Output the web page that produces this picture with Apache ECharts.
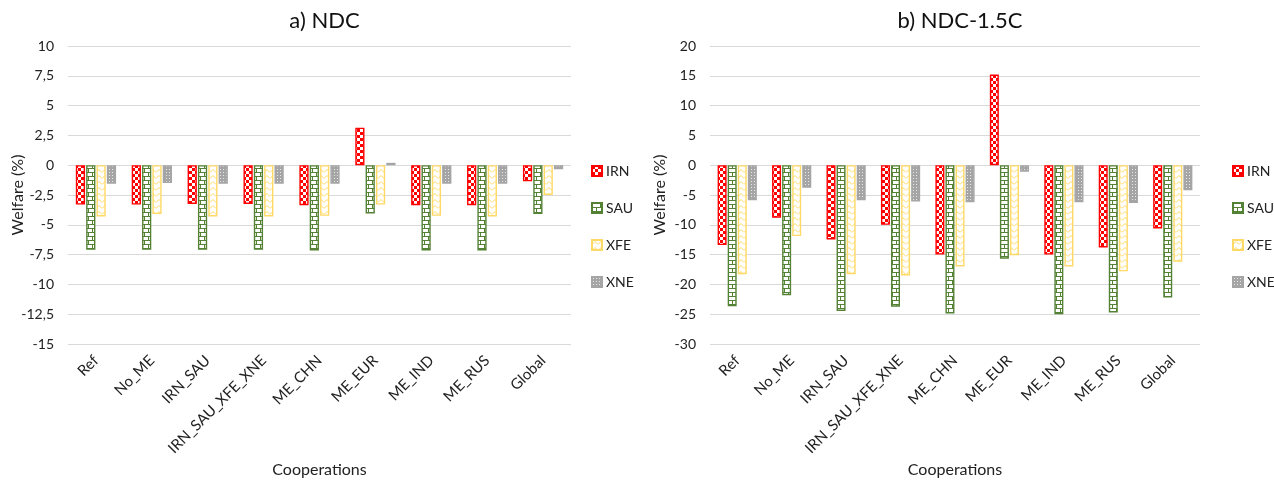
<!DOCTYPE html>
<html>
<head>
<meta charset="utf-8">
<script src="https://cdn.jsdelivr.net/npm/echarts@6/dist/echarts.min.js"></script>
<style>
html,body{margin:0;padding:0;background:#fff;}
#c{width:1274px;height:483px;}
</style>
</head>
<body>
<div id="c"></div>
<script>
// ---- Data ----
var categories = ['Ref','No_ME','IRN_SAU','IRN_SAU_XFE_XNE','ME_CHN','ME_EUR','ME_IND','ME_RUS','Global'];
var seriesNames = ['IRN','SAU','XFE','XNE'];

// a) NDC
var ndcIRN = [-3.3, -3.3, -3.25, -3.25, -3.35, 3.15, -3.35, -3.35, -1.35];
var ndcSAU = [-7.1, -7.1, -7.1, -7.1, -7.15, -4.05, -7.15, -7.15, -4.1];
var ndcXFE = [-4.3, -4.1, -4.3, -4.3, -4.25, -3.3, -4.25, -4.3, -2.5];
var ndcXNE = [-1.55, -1.5, -1.55, -1.55, -1.55, 0.2, -1.55, -1.55, -0.35];

// b) NDC-1.5C
var ndc15IRN = [-13.4, -8.8, -12.45, -10.0, -15.0, 15.2, -15.0, -13.8, -10.6];
var ndc15SAU = [-23.65, -21.8, -24.45, -23.75, -24.9, -15.7, -25.0, -24.7, -22.2];
var ndc15XFE = [-18.3, -11.9, -18.3, -18.5, -17.0, -15.1, -17.0, -17.8, -16.2];
var ndc15XNE = [-5.9, -3.8, -5.9, -6.1, -6.2, -1.1, -6.2, -6.35, -4.2];

var titles = ['a) NDC', 'b) NDC-1.5C'];
var yAxisName = 'Welfare (%)';
var xAxisName = 'Cooperations';

// ---- Patterns ----
function mk(w, h, draw){
  var c = document.createElement('canvas'); c.width = w; c.height = h;
  var g = c.getContext('2d'); g.fillStyle = '#fff'; g.fillRect(0,0,w,h); draw(g);
  return {image: c, repeat: 'repeat'};
}
var RED = '#FF0000', GREEN = '#548235', YEL = '#FFD966', GREY = '#A5A5A5';
var patIRN = mk(6,6,function(g){ g.fillStyle=RED; g.fillRect(0,0,3,3); g.fillRect(3,3,3,3); });
var patSAU = mk(8,8,function(g){ g.fillStyle=GREEN; g.fillRect(0,0,8,1); g.fillRect(0,4,8,1); g.fillRect(0,0,1,4); g.fillRect(4,4,1,4); });
var patXFE = mk(6,6,function(g){ g.strokeStyle=YEL; g.lineWidth=1; g.beginPath(); g.moveTo(0,4.5); g.lineTo(3,1.5); g.lineTo(6,4.5); g.stroke(); });
var patXNE = mk(3,3,function(g){ g.fillStyle=GREY; g.fillRect(0,0,3,3); g.fillStyle='#e8e8e8'; g.fillRect(1,1,1,1); });
var pats = [patIRN, patSAU, patXFE, patXNE];
var borders = [RED, GREEN, YEL, GREY];

var FONT = 'Lato, "Open Sans", sans-serif';
function fmt(v){ return String(v).replace('.', ','); }

var grids = [
  {left: 68, top: 46, width: 503, height: 308},
  {left: 710, top: 46, width: 490, height: 308}
];
var yRanges = [{min:-15,max:10,interval:2.5},{min:-30,max:20,interval:5}];
var dataSets = [[ndcIRN, ndcSAU, ndcXFE, ndcXNE],[ndc15IRN, ndc15SAU, ndc15XFE, ndc15XNE]];

var legendCommon = {orient:'vertical', top: 164, padding: 0, itemWidth: 10, itemHeight: 10, itemGap: 23,
  data: seriesNames, textStyle:{fontFamily: FONT, fontSize: 14, color:'#222', padding:[0,0,0,-1]}, icon:'rect'};

var option = {
  backgroundColor: '#fff',
  animation: false,
  textStyle: {fontFamily: FONT},
  title: [0,1].map(function(i){
    return {text: titles[i], left: grids[i].left + grids[i].width/2, top: 5, textAlign: 'center',
      textStyle: {fontFamily: FONT, fontSize: 22, fontWeight: 'normal', color: '#111'}};
  }),
  grid: grids,
  legend: [
    Object.assign({left: 591}, legendCommon),
    Object.assign({left: 1232}, legendCommon)
  ],
  xAxis: [0,1].map(function(i){
    return {type:'category', gridIndex:i, data: categories, position:'bottom',
      axisLine:{show:false, onZero:false}, axisTick:{show:false},
      axisLabel:{rotate:45, fontSize:15, color:'#222', margin:14, interval:0, fontFamily: FONT},
      name: xAxisName, nameLocation:'middle', nameGap: 118, nameMoveOverlap: false,
      nameTextStyle:{fontSize:16, color:'#222', fontFamily: FONT}};
  }),
  yAxis: [0,1].map(function(i){
    return {type:'value', gridIndex:i, min:yRanges[i].min, max:yRanges[i].max, interval:yRanges[i].interval,
      axisLine:{show:false}, axisTick:{show:false},
      splitLine:{lineStyle:{color:'#D9D9D9', width:1}},
      axisLabel:{fontSize:14, color:'#222', margin:14, formatter: fmt, fontFamily: FONT},
      name: yAxisName, nameLocation:'middle', nameGap: 42, nameRotate: 90, nameMoveOverlap: false,
      nameTextStyle:{fontSize:16, color:'#222', fontFamily: FONT}};
  }),
  series: []
};

[0,1].forEach(function(gi){
  seriesNames.forEach(function(n, si){
    option.series.push({
      name: n, type:'bar', xAxisIndex: gi, yAxisIndex: gi,
      data: dataSets[gi][si],
      barGap: '12%', barCategoryGap: '28%',
      itemStyle: {color: pats[si], borderColor: borders[si], borderWidth: 1.4}
    });
  });
});

var chart = echarts.init(document.getElementById('c'), null, {renderer:'canvas'});
chart.setOption(option);
</script>
</body>
</html>
